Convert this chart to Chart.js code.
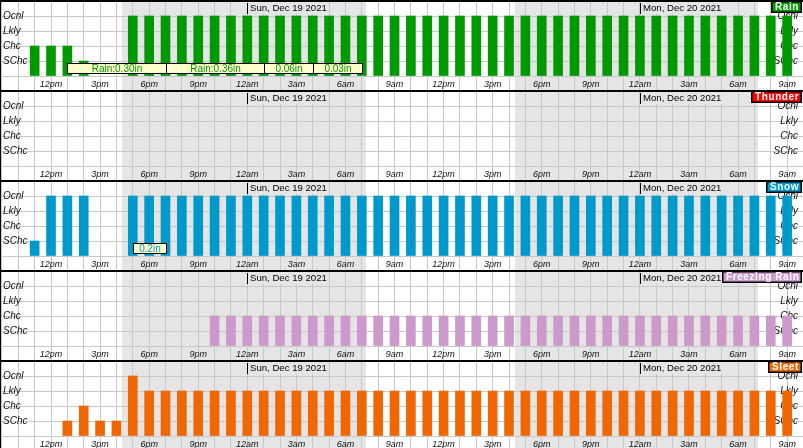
<!DOCTYPE html>
<html>
<head>
<meta charset="utf-8">
<title>Hourly weather graph</title>
<script src="https://cdn.jsdelivr.net/npm/chart.js@4.4.1/dist/chart.umd.min.js"></script>
<style>
    body { margin: 0; background: #fff; }
    #graphs { position: relative; width: 803px; height: 448px; overflow: hidden; }
    #graphs canvas { position: absolute; left: 0; }
</style>
</head>
<body>
<div id="graphs"></div>
<script>
/**
 * Data, one value per hour starting at 9am Sat Dec 18 (index 0) up to 9am Mon Dec 20 (index 48).
 * 1 = SChc, 2 = Chc, 3 = Lkly, 4 = Ocnl, null = nothing
 */
const levelLabels = ['', 'SChc', 'Chc', 'Lkly', 'Ocnl'];
const tickLabels = ['', '12pm', '3pm', '6pm', '9pm', '12am', '3am', '6am', '9am',
    '12pm', '3pm', '6pm', '9pm', '12am', '3am', '6am', '9am'];

const rain = [
    null, null, 2, 2, 2, 1, null, null, 4, 4, 4, 4,
    4, 4, 4, 4, 4, 4, 4, 4, 4, 4, 4, 4,
    4, 4, 4, 4, 4, 4, 4, 4, 4, 4, 4, 4,
    4, 4, 4, 4, 4, 4, 4, 4, 4, 4, 4, 4,
    4
];
const thunder = [
    null, null, null, null, null, null, null, null, null, null, null, null,
    null, null, null, null, null, null, null, null, null, null, null, null,
    null, null, null, null, null, null, null, null, null, null, null, null,
    null, null, null, null, null, null, null, null, null, null, null, null,
    null
];
const snow = [
    null, null, 1, 4, 4, 4, null, null, 4, 4, 4, 4,
    4, 4, 4, 4, 4, 4, 4, 4, 4, 4, 4, 4,
    4, 4, 4, 4, 4, 4, 4, 4, 4, 4, 4, 4,
    4, 4, 4, 4, 4, 4, 4, 4, 4, 4, 4, 4,
    4
];
const freezingRain = [
    null, null, null, null, null, null, null, null, null, null, null, null,
    null, 2, 2, 2, 2, 2, 2, 2, 2, 2, 2, 2,
    2, 2, 2, 2, 2, 2, 2, 2, 2, 2, 2, 2,
    2, 2, 2, 2, 2, 2, 2, 2, 2, 2, 2, 2,
    2
];
const sleet = [
    null, null, null, null, 1, 2, 1, 1, 4, 3, 3, 3,
    3, 3, 3, 3, 3, 3, 3, 3, 3, 3, 3, 3,
    3, 3, 3, 3, 3, 3, 3, 3, 3, 3, 3, 3,
    3, 3, 3, 3, 3, 3, 3, 3, 3, 3, 3, 3,
    3
];

// night (hours since 9am) and day changes
const nightStart = [7.33, 31.37];
const nightEnd = [22.27, 46.23];
const dayStart = [15, 39];
const dayLabels = ['Sun, Dec 19 2021', 'Mon, Dec 20 2021'];

// amount boxes
const rainAmtFrom = [4, 10, 16, 19];
const rainAmtTo = [10, 16, 19, 22];
const rainAmtText = ['Rain:0.30in', 'Rain:0.36in', '0.06in', '0.03in'];
const snowAmtFrom = [8];
const snowAmtTo = [10];
const snowAmtText = ['0.2in'];

/**
 * Styles
 */
const shadeColor = '#e5e5e5';
const gridColor = '#c8c8c8';
const fontFamily = '"Liberation Sans", Arial, sans-serif';
const panelHeight = 90;

const panels = [
    { title: 'Rain', color: '#009900', data: rain, amounts: [rainAmtFrom, rainAmtTo, rainAmtText] },
    { title: 'Thunder', color: '#ff0000', data: thunder, amounts: null },
    { title: 'Snow', color: '#0099cc', data: snow, amounts: [snowAmtFrom, snowAmtTo, snowAmtText] },
    { title: 'Freezing Rain', color: '#cc99cc', data: freezingRain, amounts: null },
    { title: 'Sleet', color: '#f06600', data: sleet, amounts: null }
];

/**
 * Night shading, date labels, amount boxes, title box, borders
 */
const panelDecor = {
    id: 'panelDecor',
    beforeDraw(chart) {
        const ctx = chart.ctx;
        const x = chart.scales.x;
        ctx.save();
        ctx.fillStyle = '#fff';
        ctx.fillRect(0, 0, chart.width, chart.height);
        ctx.fillStyle = shadeColor;
        for (let i = 0; i < nightStart.length; i++) {
            const a = Math.round(x.getPixelForValue(nightStart[i]));
            const b = Math.round(x.getPixelForValue(nightEnd[i]));
            ctx.fillRect(a, 0, b - a, chart.height);
        }
        ctx.restore();
    },
    afterDatasetsDraw(chart, args, opts) {
        const ctx = chart.ctx;
        const x = chart.scales.x;
        ctx.save();
        ctx.textBaseline = 'middle';

        // dates
        ctx.font = '9.6px ' + fontFamily;
        for (let i = 0; i < dayStart.length; i++) {
            const px = Math.round(x.getPixelForValue(dayStart[i]));
            const w = ctx.measureText(dayLabels[i]).width;
            ctx.fillStyle = shadeColor;
            ctx.fillRect(px, 2, w + 5, 12);
            ctx.fillStyle = '#000';
            ctx.fillRect(px, 3, 1, 11);
            ctx.textAlign = 'left';
            ctx.fillText(dayLabels[i], px + 3, 8.5);
        }

        // amounts
        if (opts.amounts) {
            const [from, to, text] = opts.amounts;
            ctx.font = '10px ' + fontFamily;
            ctx.textAlign = 'center';
            ctx.lineWidth = 1;
            for (let i = 0; i < from.length; i++) {
                const a = Math.round(x.getPixelForValue(from[i])) + 0.5;
                const b = Math.round(x.getPixelForValue(to[i])) + 0.5;
                ctx.fillStyle = '#ffffcc';
                ctx.fillRect(a, 63.5, b - a, 10);
                ctx.strokeStyle = '#000';
                ctx.strokeRect(a, 63.5, b - a, 10);
                ctx.fillStyle = opts.color;
                ctx.fillText(text[i], (a + b) / 2, 69);
            }
        }

        // title box
        ctx.font = 'bold 10px ' + fontFamily;
        ctx.letterSpacing = '0.6px';
        const tw = ctx.measureText(opts.title).width;
        const right = chart.width - 2;
        const bw = Math.round(tw + 5);
        ctx.fillStyle = opts.color;
        ctx.fillRect(right - bw, 2, bw, 10);
        ctx.strokeStyle = '#000';
        ctx.lineWidth = 1.5;
        ctx.strokeRect(right - bw - 0.25, 1.75, bw + 0.5, 10.5);
        ctx.fillStyle = '#fff';
        ctx.textAlign = 'left';
        ctx.fillText(opts.title, right - bw + 3, 7.5);
        ctx.letterSpacing = '0px';

        // borders
        ctx.fillStyle = '#000';
        ctx.fillRect(0, 0, chart.width, 2);
        ctx.fillRect(0, 0, 1, chart.height);
        ctx.restore();
    }
};

function noPadding(scale) {
    scale.paddingTop = 0;
    scale.paddingBottom = 0;
    scale.paddingLeft = 0;
    scale.paddingRight = 0;
}

function levelTicks(scale) {
    scale.ticks = levelLabels.map((l, i) => ({ value: i }));
}

const graphs = document.getElementById('graphs');

for (let p = 0; p < panels.length; p++) {
    const panel = panels[p];
    const canvas = document.createElement('canvas');
    canvas.width = 803;
    canvas.height = panelHeight;
    canvas.style.top = (p * panelHeight) + 'px';
    graphs.appendChild(canvas);

    new Chart(canvas, {
        type: 'bar',
        data: {
            datasets: [{
                label: panel.title,
                data: panel.data.map((v, i) => ({ x: i, y: v })),
                backgroundColor: panel.color,
                borderWidth: 0,
                barThickness: 9
            }]
        },
        options: {
            responsive: false,
            animation: false,
            devicePixelRatio: 1,
            layout: { padding: { top: 2, left: 0, right: 0, bottom: 0 } },
            plugins: {
                legend: { display: false },
                tooltip: { enabled: false },
                panelDecor: { title: panel.title, color: panel.color, amounts: panel.amounts }
            },
            scales: {
                x: {
                    type: 'linear',
                    min: -0.118,
                    max: 48.97,
                    offset: false,
                    border: { display: false },
                    grid: { color: gridColor, offset: false, drawTicks: true, tickLength: 14 },
                    afterBuildTicks: (scale) => {
                        scale.ticks = rain.map((v, i) => ({ value: i }));
                    },
                    afterFit: (scale) => {
                        scale.height = 14;
                        noPadding(scale);
                    },
                    ticks: {
                        autoSkip: false,
                        maxRotation: 0,
                        minRotation: 0,
                        padding: -11,
                        color: '#111',
                        font: { family: fontFamily, size: 9, style: 'italic' },
                        callback: (value) => value % 3 === 0 ? tickLabels[value / 3] : ''
                    }
                },
                y: {
                    position: 'left',
                    min: 0,
                    max: 74 / 15,
                    border: { display: false },
                    grid: { color: gridColor, drawTicks: false },
                    afterBuildTicks: levelTicks,
                    afterFit: (scale) => {
                        scale.width = 0;
                        noPadding(scale);
                    },
                    ticks: {
                        mirror: true,
                        padding: 3,
                        color: '#111',
                        font: { family: fontFamily, size: 10, style: 'italic' },
                        callback: (value) => levelLabels[value]
                    }
                },
                y2: {
                    position: 'right',
                    min: 0,
                    max: 74 / 15,
                    border: { display: false },
                    grid: { display: false, drawTicks: false },
                    afterBuildTicks: levelTicks,
                    afterFit: (scale) => {
                        scale.width = 0;
                        noPadding(scale);
                    },
                    ticks: {
                        mirror: true,
                        padding: -5,
                        color: '#111',
                        font: { family: fontFamily, size: 10, style: 'italic' },
                        callback: (value) => levelLabels[value]
                    }
                }
            }
        },
        plugins: [panelDecor]
    });
}
</script>
</body>
</html>
